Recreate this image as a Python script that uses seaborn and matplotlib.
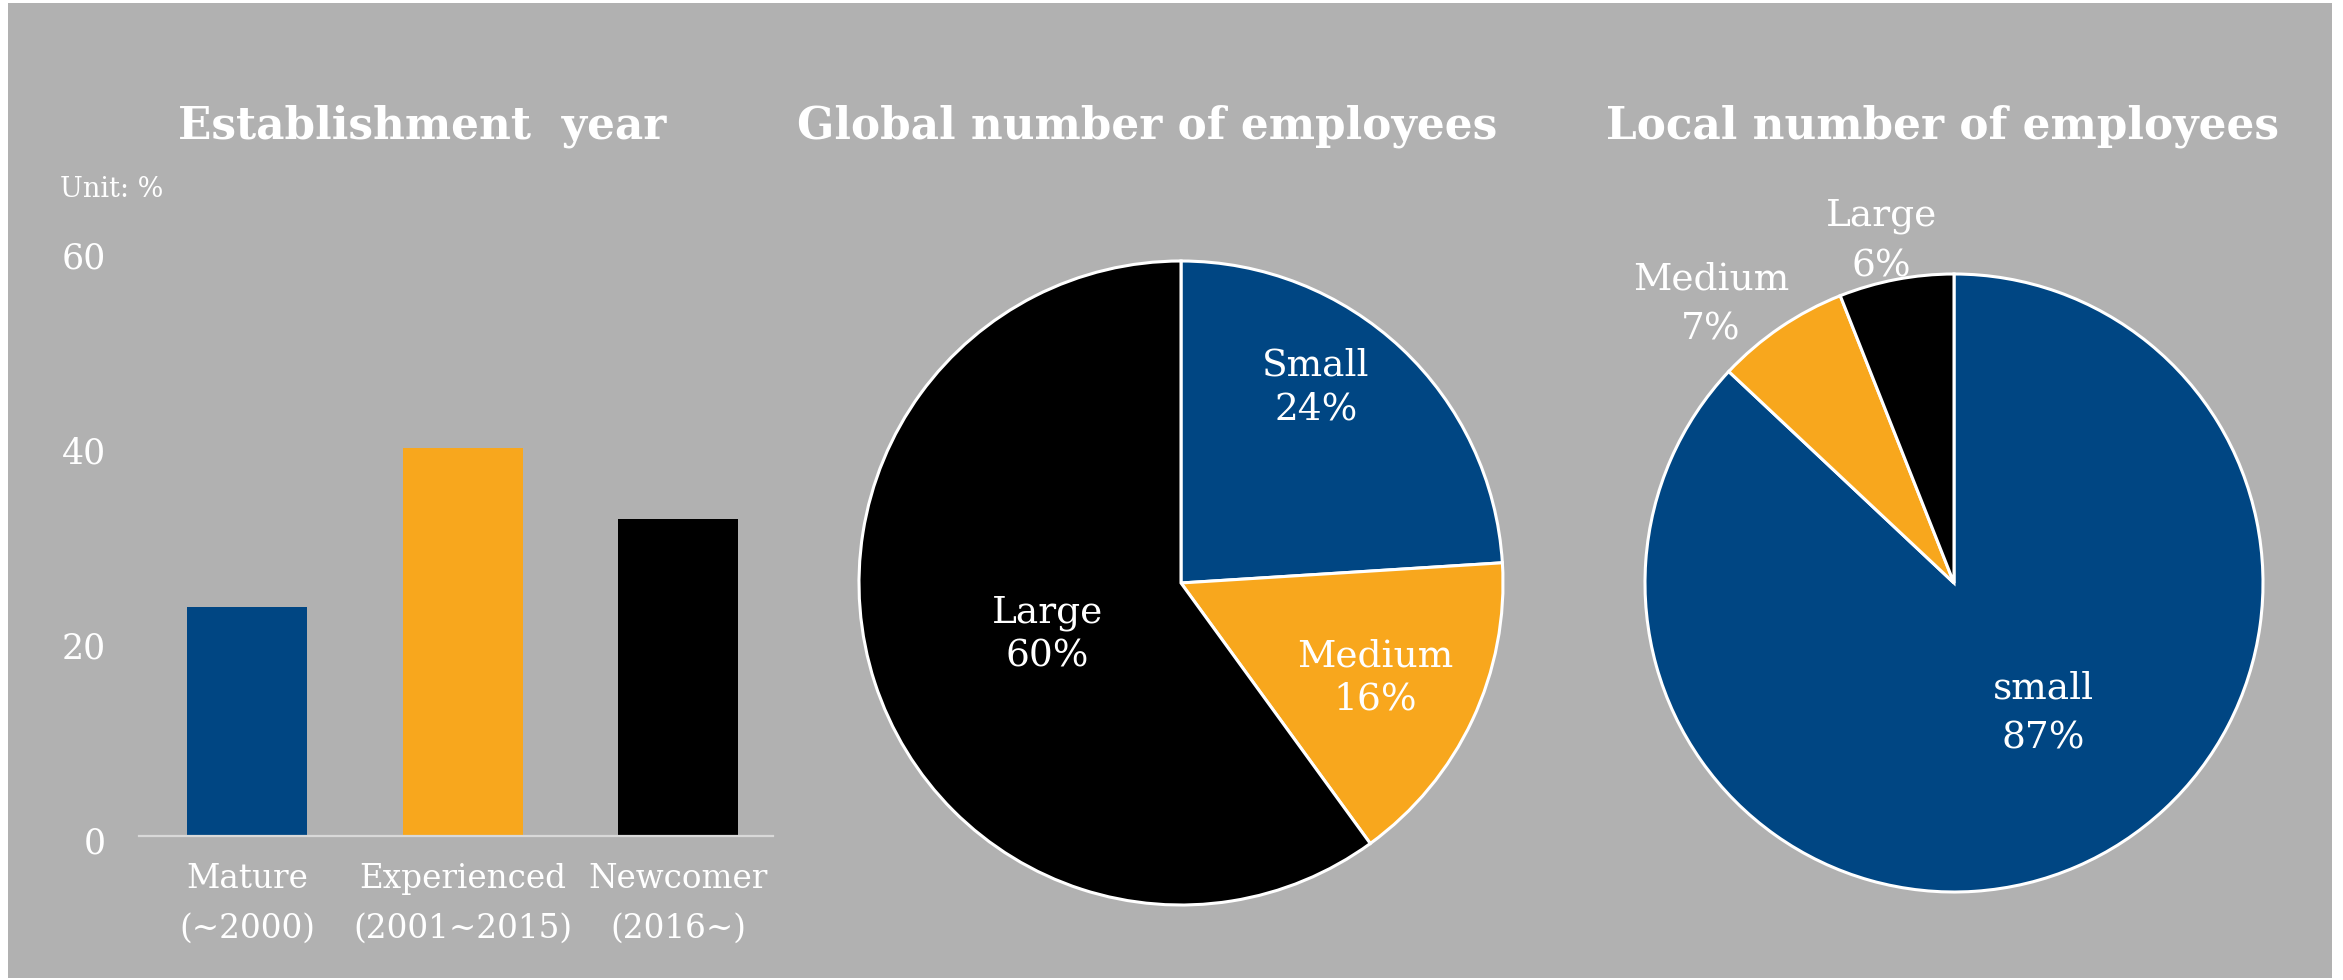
import matplotlib
matplotlib.use("Agg")
import matplotlib.pyplot as plt
import matplotlib.transforms as mtransforms
import seaborn as sns
import pandas as pd
import numpy as np
from matplotlib.patches import Rectangle

# ---- data ----
bar_categories = ["Mature\n(~2000)", "Experienced\n(2001~2015)", "Newcomer\n(2016~)"]
bar_values = [23.5, 39.8, 32.5]
y_ticks = [0, 20, 40, 60]

global_labels = ["Small", "Medium", "Large"]
global_values = [24, 16, 60]

local_labels = ["small", "Medium", "Large"]
local_values = [87, 7, 6]

titles = ["Establishment  year", "Global number of employees", "Local number of employees"]

# ---- style ----
BLUE = "#004683"
ORANGE = "#F8A71D"
BLACK = "#000000"
BG = "#B1B1B1"
AXIS = "#D9D9D9"
palette = [BLUE, ORANGE, BLACK]

W, H, DPI = 2343, 980, 100

sns.set_style("white")
plt.rcParams["font.family"] = ["DejaVu Serif"]

fig = plt.figure(figsize=(W / DPI, H / DPI), dpi=DPI)
fig.patch.set_facecolor("white")
fig.patches.append(Rectangle((8 / W, 2 / H), (2332 - 8) / W, 975 / H,
                             transform=fig.transFigure, facecolor=BG,
                             edgecolor="none", zorder=-10))


def px_axes(left, top, right, bottom):
    """Axes placed by pixel box (origin top-left)."""
    return fig.add_axes([left / W, 1 - bottom / H, (right - left) / W, (bottom - top) / H])


# ---- bar chart: establishment year ----
ax = px_axes(139, 251, 773, 836)
ax.patch.set_alpha(0)
df = pd.DataFrame({"cat": bar_categories, "val": bar_values})
sns.barplot(data=df, x="cat", y="val", hue="cat", palette=palette, width=0.557,
            saturation=1, legend=False, linewidth=0, ax=ax)
ax.set_xlim(-0.501, 2.44)
ax.set_ylim(0, 60)
ax.set_yticks(y_ticks)
ax.set_xlabel("")
ax.set_ylabel("")
for s in ["top", "right", "left"]:
    ax.spines[s].set_visible(False)
ax.spines["bottom"].set_color(AXIS)
ax.spines["bottom"].set_linewidth(1.6)
ax.tick_params(axis="y", length=0, pad=23.5, labelsize=25, labelcolor="white")
ax.tick_params(axis="x", length=0, pad=19.5, labelsize=23.5, labelcolor="white")
for t in ax.get_xticklabels():
    t.set_linespacing(1.7)
shift_down = mtransforms.ScaledTranslation(0, -3 / 72, fig.dpi_scale_trans)
for t in ax.get_yticklabels():
    t.set_transform(t.get_transform() + shift_down)
fig.text(60 / W, 1 - 197 / H, "Unit: %", color="white", fontsize=19.5,
         ha="left", va="baseline")


# ---- pie charts ----
def draw_pie(cx, cy, r, values, labels, dist, nudge, linespacing):
    pax = px_axes(cx - r, cy - r, cx + r, cy + r)
    wedges, _ = pax.pie(values, colors=palette, startangle=90, counterclock=False,
                        wedgeprops=dict(edgecolor="white", linewidth=2.2))
    pax.set_xlim(-1, 1)
    pax.set_ylim(-1, 1)
    for w, lab, v, d, n in zip(wedges, labels, values, dist, nudge):
        ang = np.deg2rad((w.theta1 + w.theta2) / 2 + n)
        pax.text(d * np.cos(ang), d * np.sin(ang), f"{lab}\n{v}%", color="white",
                 fontsize=27, ha="center", va="center", linespacing=linespacing,
                 clip_on=False)
    return pax


draw_pie(1181, 583, 322, global_values, global_labels,
         dist=[0.739, 0.671, 0.446], nudge=[8.6, -0.9, 3.2], linespacing=1.28)
draw_pie(1954, 583, 309, local_values, local_labels,
         dist=[0.51, 1.197, 1.13], nudge=[11.0, 6.85, 1.2], linespacing=1.5)

# ---- titles ----
for x, t in zip([422, 1147, 1943], titles):
    fig.text(x / W, 1 - 138 / H, t, color="white", fontsize=31.5, fontweight="bold",
             ha="center", va="baseline")

fig.savefig("out.png", dpi=DPI, facecolor=fig.get_facecolor())
